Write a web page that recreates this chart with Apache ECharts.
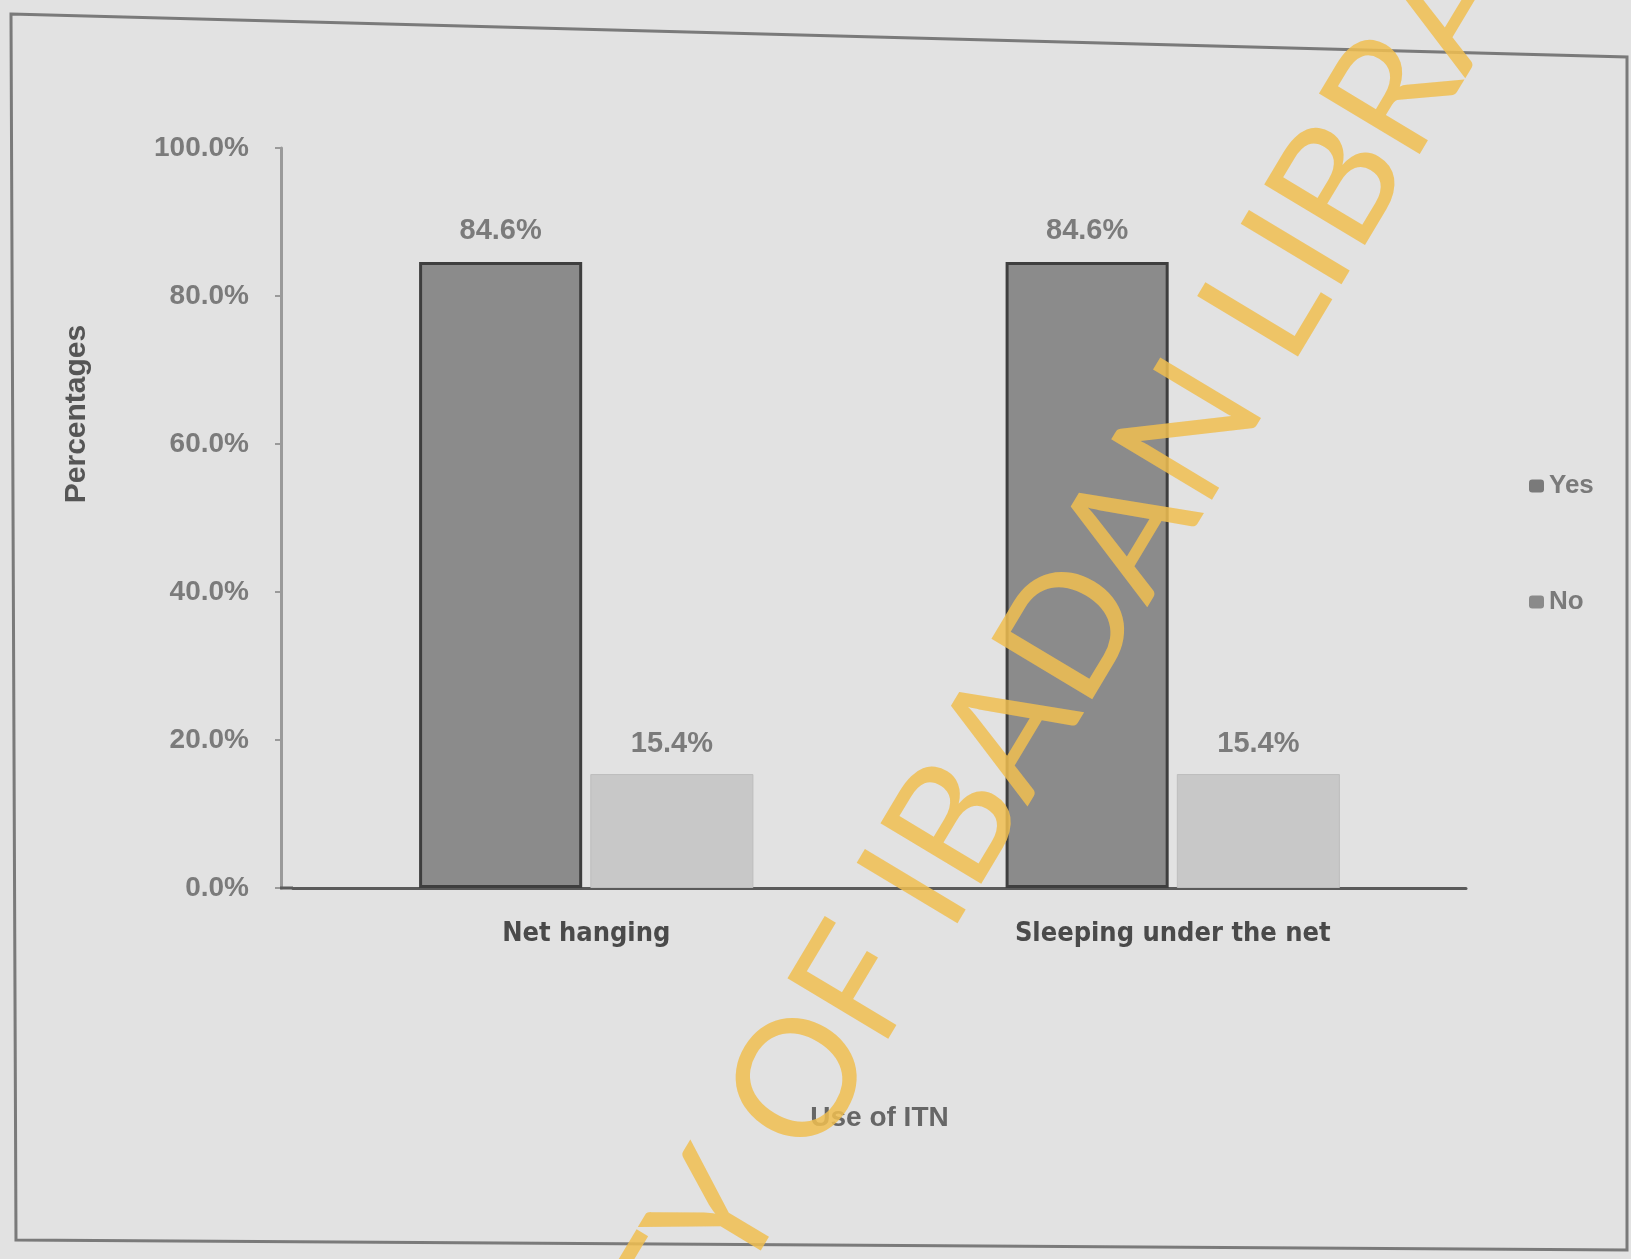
<!DOCTYPE html>
<html>
<head>
<meta charset="utf-8">
<script src="https://cdn.jsdelivr.net/npm/echarts@6/dist/echarts.min.js"></script>
<style>
  html, body { margin: 0; padding: 0; background: #e2e2e2; }
  #chart { width: 1631px; height: 1259px; }
</style>
</head>
<body>
<div id="chart"></div>
<script>
const categories = ['Net hanging', 'Sleeping under the net'];
const yesValues = [84.6, 84.6];
const noValues = [15.4, 15.4];
const seriesNames = ['Yes', 'No'];
const yAxisTitle = 'Percentages';
const xAxisTitle = 'Use of ITN';
const watermark = 'UNIVERSITY OF IBADAN LIBRARY';
const watermarkPrefix = 'UNIVERSITY OF IBADAN ';

// watermark placement (anchored at the start of "LIBRARY")
const wmFont = 'normal 164px Lato, "Noto Sans", sans-serif';
const cv = document.createElement('canvas').getContext('2d');
cv.font = wmFont;
const prefixW = cv.measureText(watermarkPrefix).width;
const theta = 59 * Math.PI / 180;
const dir = [Math.cos(theta), -Math.sin(theta)];
const lMid = [1245, 342];
const wmX = lMid[0] - dir[0] * prefixW;
const wmY = lMid[1] - dir[1] * prefixW;

const chart = echarts.init(document.getElementById('chart'));
const labelStyle = {
  show: true, position: 'top', distance: 16,
  fontSize: 29, fontWeight: 'bold', color: '#7b7b7b',
  fontFamily: '"Liberation Sans", Arial, sans-serif',
  formatter: p => p.value.toFixed(1) + '%'
};
const gridLeft = 293, gridBottomY = 888;
chart.setOption({
  backgroundColor: '#e2e2e2',
  animation: false,
  grid: { left: gridLeft, right: 165, top: 148, bottom: 1259 - gridBottomY, containLabel: false },
  legend: {
    orient: 'vertical', left: 1524, top: 468, itemGap: 90,
    itemWidth: 15, itemHeight: 13, icon: 'roundRect',
    textStyle: { fontSize: 26, fontWeight: 'bold', color: '#7a7a7a', fontFamily: '"Liberation Sans", Arial, sans-serif' },
    data: [
      { name: seriesNames[0], itemStyle: { color: '#7a7a7a', borderWidth: 0 } },
      { name: seriesNames[1], itemStyle: { color: '#8a8a8a', borderWidth: 0 } }
    ]
  },
  xAxis: {
    type: 'category', data: categories,
    name: xAxisTitle, nameLocation: 'middle', nameGap: 216,
    nameTextStyle: { fontSize: 28, fontWeight: 'bold', color: '#666', fontFamily: '"Liberation Sans", Arial, sans-serif' },
    axisLine: { lineStyle: { color: '#5a5a5a', width: 3 } },
    axisTick: { show: false },
    axisLabel: { margin: 32, fontSize: 27, fontWeight: 'bold', color: '#4a4a4a',
      fontFamily: '"Liberation Sans Narrow", "DejaVu Sans Condensed", "Liberation Sans", sans-serif' }
  },
  yAxis: {
    type: 'value', min: 0, max: 100, interval: 20, offset: 12,
    axisLine: { show: true, lineStyle: { color: '#9a9a9a', width: 3 } },
    axisTick: { show: true, length: 6, lineStyle: { color: '#9a9a9a', width: 2 } },
    splitLine: { show: false },
    axisLabel: { margin: 32, fontSize: 28, fontWeight: 'bold', color: '#7b7b7b',
      fontFamily: '"Liberation Sans", Arial, sans-serif',
      formatter: v => v.toFixed(1) + '%' }
  },
  series: [
    { name: seriesNames[0], type: 'bar', data: yesValues,
      barCategoryGap: '43%', barGap: '5%',
      itemStyle: { color: '#8b8b8b', borderColor: '#3e3e3e', borderWidth: 3 },
      label: labelStyle },
    { name: seriesNames[1], type: 'bar', data: noValues,
      itemStyle: { color: '#c8c8c8', borderColor: '#bdbdbd', borderWidth: 1 },
      label: labelStyle }
  ],
  graphic: [
    { type: 'polygon', silent: true, z: -1,
      shape: { points: [[11, 14], [1627, 57], [1627, 1250], [16, 1240]] },
      style: { fill: 'none', stroke: '#7a7a7a', lineWidth: 3 } },
    { type: 'line', silent: true, z: 1,
      shape: { x1: gridLeft - 13, y1: gridBottomY, x2: gridLeft, y2: gridBottomY },
      style: { stroke: '#5a5a5a', lineWidth: 3 } },
    { type: 'text', x: 77, y: 414, rotation: Math.PI / 2, silent: true,
      style: { text: yAxisTitle, fontSize: 30, fontWeight: 'bold', fill: '#555',
        fontFamily: '"Liberation Sans", Arial, sans-serif',
        textAlign: 'center', textVerticalAlign: 'middle' } },
    { type: 'text', x: wmX, y: wmY, rotation: theta, silent: true, z: 100,
      style: { text: watermark, font: wmFont, fill: 'rgba(240,190,80,0.85)',
        textAlign: 'left', textVerticalAlign: 'middle' } }
  ]
});
</script>
</body>
</html>
